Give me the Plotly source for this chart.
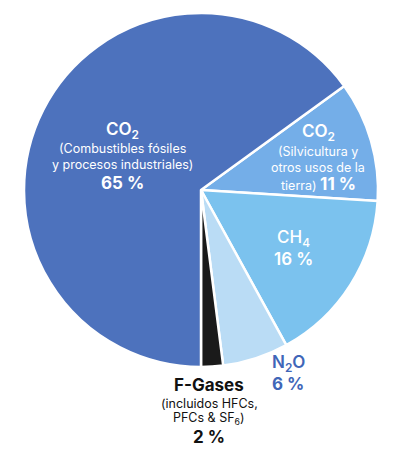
"""Global greenhouse gas emissions by gas - pie chart."""

import plotly.graph_objects as go

# ---------------------------------------------------------------------------
# Data
# ---------------------------------------------------------------------------

gases = [
    "CO2 (Silvicultura y otros usos de la tierra)",
    "CH4",
    "N2O",
    "F-Gases",
    "CO2 (Combustibles fósiles y procesos industriales)",
]
shares = [11, 16, 6, 2, 65]
slice_colours = ["#74aee8", "#7bc2ee", "#badcf5", "#1a1a1a", "#4d72bd"]

FONT = "Inter"

# label lines: (text, x px, y px, size, colour, weight) in page pixels
label_lines = [
    # CO2 fossil
    ("CO<sub>2</sub>", 123, 131, 17, "white", 600),
    ("(Combustibles fósiles", 123, 148, 12.5, "white", 400),
    ("y procesos industriales)", 123, 164, 12.5, "white", 400),
    ("65 %", 123, 183, 17, "white", 700),
    # CO2 forestry
    ("CO<sub>2</sub>", 318, 132, 17, "white", 600),
    ("(Silvicultura y", 318, 151, 12.5, "white", 400),
    ("otros usos de la", 318, 167, 12.5, "white", 400),
    ("tierra) <span style='font-size:17px;font-weight:700'>11 %</span>",
     318, 184, 12.5, "white", 400),
    # CH4
    ("CH<sub>4</sub>", 293, 238, 17, "white", 500),
    ("16 %", 293, 259, 17, "white", 600),
    # N2O
    ("N<sub>2</sub>O", 288, 363, 17, "#3f66b8", 600),
    ("6 %", 288, 384, 17, "#3f66b8", 700),
    # F-Gases
    ("F-Gases", 209, 385, 17, "#111111", 700),
    ("(incluidos HFCs,", 209, 403, 12.5, "#111111", 400),
    ("PFCs & SF<sub>6</sub>)", 209, 418, 12.5, "#111111", 400),
    ("2 %", 209, 437, 17, "#111111", 700),
]

# the page body has an 8px margin, so the figure is drawn 8px in
BODY = 8
W, H = 400 - 2 * BODY, 461 - 2 * BODY
M = dict(l=16, r=14, t=5, b=86)

fig = go.Figure(go.Pie(
    labels=gases,
    values=shares,
    marker=dict(colors=slice_colours, line=dict(color="white", width=2.5)),
    sort=False,
    direction="clockwise",
    rotation=54,
    textinfo="none",
    hoverinfo="label+percent",
    showlegend=False,
))

plot_w = W - M["l"] - M["r"]
plot_h = H - M["t"] - M["b"]

for text, x, y, size, colour, weight in label_lines:
    fx = x - BODY - M["l"]
    fy = y - BODY - M["t"]
    fig.add_annotation(
        x=fx / plot_w, y=1 - fy / plot_h, xref="paper", yref="paper",
        text=text,
        showarrow=False,
        borderpad=0,
        font=dict(family=FONT, size=size, color=colour, weight=weight),
        xanchor="center", yanchor="middle",
    )

fig.update_layout(
    width=W,
    height=H,
    margin=M,
    paper_bgcolor="white",
    plot_bgcolor="white",
)

fig.write_html("out.html")
